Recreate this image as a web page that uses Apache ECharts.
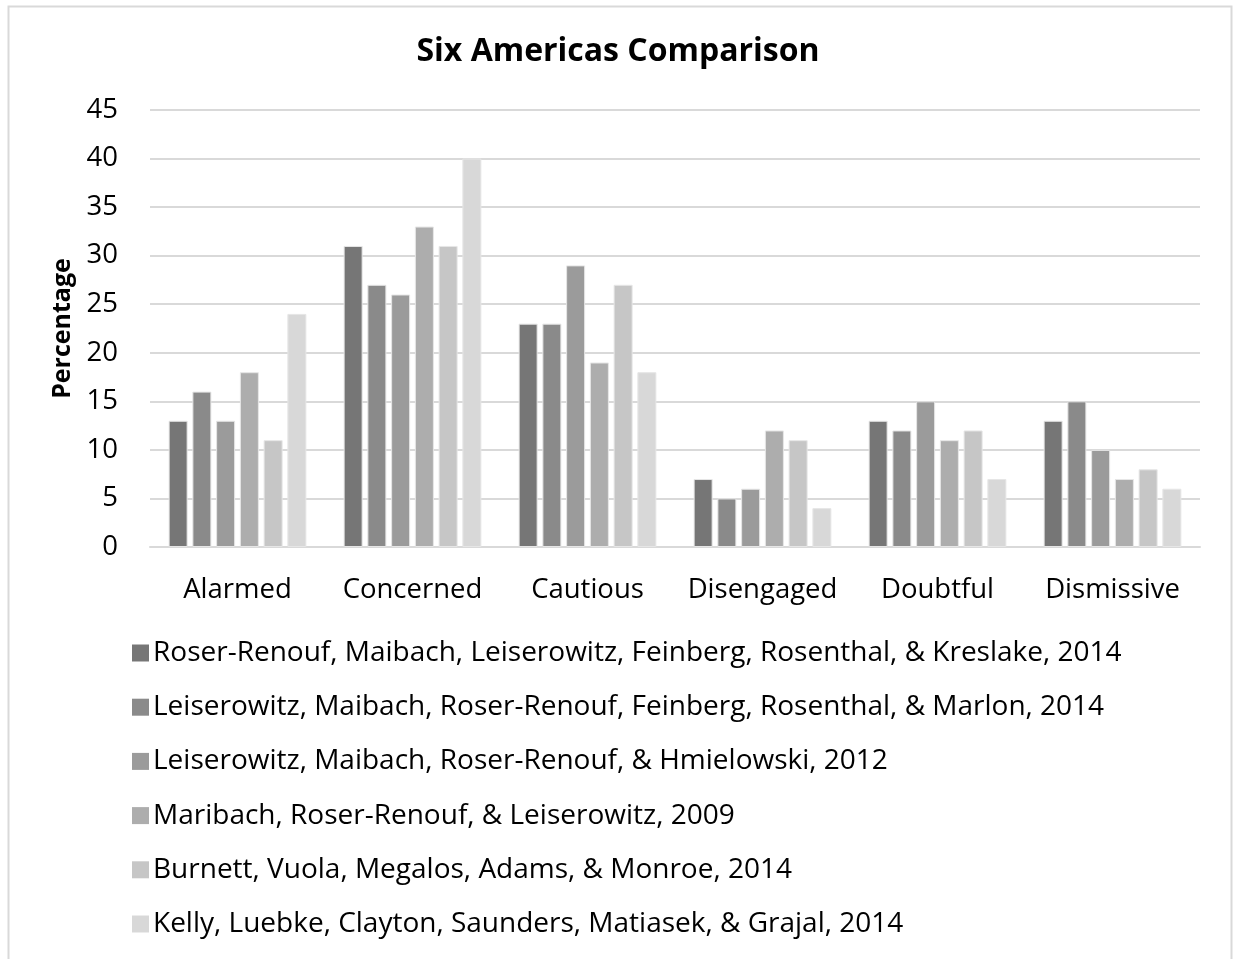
<!DOCTYPE html>
<html>
<head>
<meta charset="utf-8">
<script src="https://cdn.jsdelivr.net/npm/echarts@6/dist/echarts.min.js"></script>
<style>
  html, body { margin: 0; padding: 0; background: #fff; }
  #chart { width: 1236px; height: 959px; }
</style>
</head>
<body>
<div id="chart"></div>
<script>
// Audience segments (x axis)
const categories = ['Alarmed', 'Concerned', 'Cautious', 'Disengaged', 'Doubtful', 'Dismissive'];

// One study per series, values in percent for each segment
const studyNames = [
  'Roser-Renouf, Maibach, Leiserowitz, Feinberg, Rosenthal, & Kreslake, 2014',
  'Leiserowitz, Maibach, Roser-Renouf, Feinberg, Rosenthal, & Marlon, 2014',
  'Leiserowitz, Maibach, Roser-Renouf, & Hmielowski, 2012',
  'Maribach, Roser-Renouf, & Leiserowitz, 2009',
  'Burnett, Vuola, Megalos, Adams, & Monroe, 2014',
  'Kelly, Luebke, Clayton, Saunders, Matiasek, & Grajal, 2014'
];
const roserRenouf2014 = [13, 31, 23, 7, 13, 13];
const leiserowitz2014 = [16, 27, 23, 5, 12, 15];
const leiserowitz2012 = [13, 26, 29, 6, 15, 10];
const maribach2009    = [18, 33, 19, 12, 11, 7];
const burnett2014     = [11, 31, 27, 11, 12, 8];
const kelly2014       = [24, 40, 18, 4, 7, 6];
const seriesValues = [roserRenouf2014, leiserowitz2014, leiserowitz2012, maribach2009, burnett2014, kelly2014];

// Y axis ticks
const yMin = 0, yMax = 45, yStep = 5;

const greys = ['#767676', '#8a8a8a', '#9b9b9b', '#adadad', '#c6c6c6', '#d8d8d8'];
const FONT = '"Open Sans", sans-serif';

const chart = echarts.init(document.getElementById('chart'), null, { renderer: 'canvas' });

chart.setOption({
  animation: false,
  backgroundColor: '#ffffff',
  color: greys,
  title: {
    text: 'Six Americas Comparison',
    left: 'center',
    top: 31,
    textStyle: { fontFamily: FONT, fontWeight: 'bold', fontSize: 32, color: '#000' }
  },
  graphic: [{
    type: 'rect',
    shape: { x: 8.5, y: 6.5, width: 1223, height: 980 },
    style: { fill: null, stroke: '#d9d9d9', lineWidth: 2 },
    silent: true
  }],
  grid: { left: 150, right: 36, top: 110, bottom: 412, containLabel: false },
  legend: {
    orient: 'vertical',
    left: 127,
    top: 633,
    itemWidth: 17,
    itemHeight: 17,
    itemGap: 24.2,
    itemStyle: { borderWidth: 0 },
    icon: 'rect',
    data: studyNames,
    textStyle: { fontFamily: FONT, fontSize: 28, color: '#000', lineHeight: 30, padding: [0, 0, 0, -1] }
  },
  xAxis: {
    type: 'category',
    data: categories,
    axisLine: { show: true, lineStyle: { color: '#d9d9d9', width: 2 } },
    axisTick: { show: false },
    axisLabel: { fontFamily: FONT, fontSize: 27.5, color: '#000', margin: 29, interval: 0 }
  },
  yAxis: {
    type: 'value',
    min: yMin,
    max: yMax,
    interval: yStep,
    name: 'Percentage',
    nameLocation: 'middle',
    nameGap: 73,
    nameRotate: 90,
    nameTextStyle: { fontFamily: FONT, fontWeight: 'bold', fontSize: 25, color: '#000' },
    axisLine: { show: false },
    axisTick: { show: false },
    axisLabel: { fontFamily: FONT, fontSize: 27.5, color: '#000', margin: 32 },
    splitLine: { lineStyle: { color: '#d9d9d9', width: 2 } }
  },
  series: seriesValues.map((vals, i) => ({
    name: studyNames[i],
    type: 'bar',
    data: vals,
    barWidth: 19,
    barGap: '25%',
    itemStyle: { color: greys[i], borderColor: '#e6e6e6', borderWidth: 1 }
  }))
});
</script>
</body>
</html>
